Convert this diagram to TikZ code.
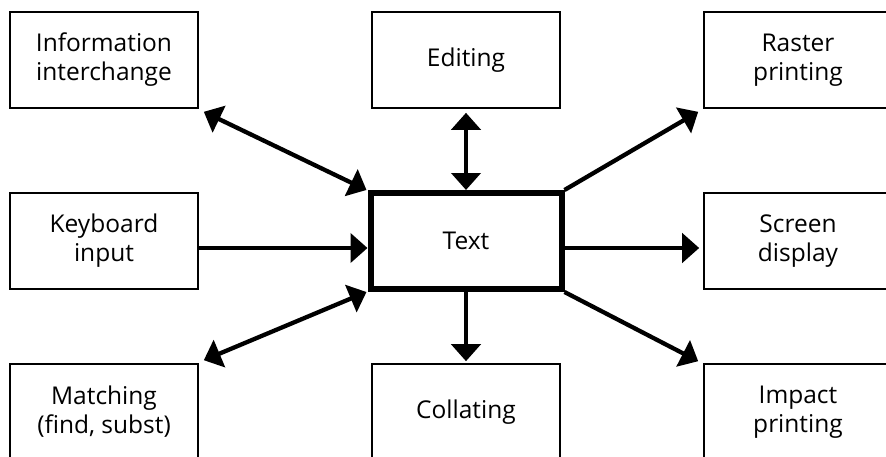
\documentclass[tikz,border=0pt]{standalone}
\usepackage{fontspec}
\setmainfont{Open Sans}
\usetikzlibrary{arrows.meta}
\begin{document}
\begin{tikzpicture}[x=1pt,y=-1pt,
  box/.style={draw, line width=1.6pt, minimum width=188pt, minimum height=96pt,
    align=center, inner sep=0pt, font=\fontsize{24.5}{29}\selectfont},
  mainbox/.style={box, line width=6pt, minimum width=191pt, minimum height=96pt},
  tipshape/.tip={Triangle[length=17pt,width=29pt]},
  conn/.style={line width=4.3pt, -tipshape},
  biconn/.style={line width=4.3pt, tipshape-tipshape}]
\clip (0,0) rectangle (886,456);
\node[box] (info) at (104,60) {Information\\interchange};
\node[box] (edit) at (466,60) {Editing};
\node[box] (raster) at (798,60) {Raster\\printing};
\node[box] (key) at (104,241) {Keyboard\\input};
\node[mainbox] (text) at (466,241) {Text};
\node[box] (screen) at (798,241) {Screen\\display};
\node[box] (match) at (104,412) {Matching\\(find, subst)};
\node[box] (coll) at (466,412) {Collating};
\node[box] (impact) at (798,412) {Impact\\printing};
\draw[biconn] ([shift={(5,3)}]info.south east) -- ([shift={(-1,0)}]text.north west);
\draw[biconn] ([shift={(0,4)}]edit.south) -- (text.north);
\draw[conn] (text.north east) -- ([shift={(-5,3)}]raster.south west);
\draw[conn] ([shift={(0,7)}]key.east) -- ([shift={(0,7)}]text.west);
\draw[conn] ([shift={(0,7)}]text.east) -- ([shift={(-4,7)}]screen.west);
\draw[biconn] ([shift={(5,-3)}]match.north east) -- ([shift={(-1,0)}]text.south west);
\draw[conn] (text.south) -- ([shift={(0,-2)}]coll.north);
\draw[conn] (text.south east) -- ([shift={(-5,-2)}]impact.north west);
\end{tikzpicture}
\end{document}
